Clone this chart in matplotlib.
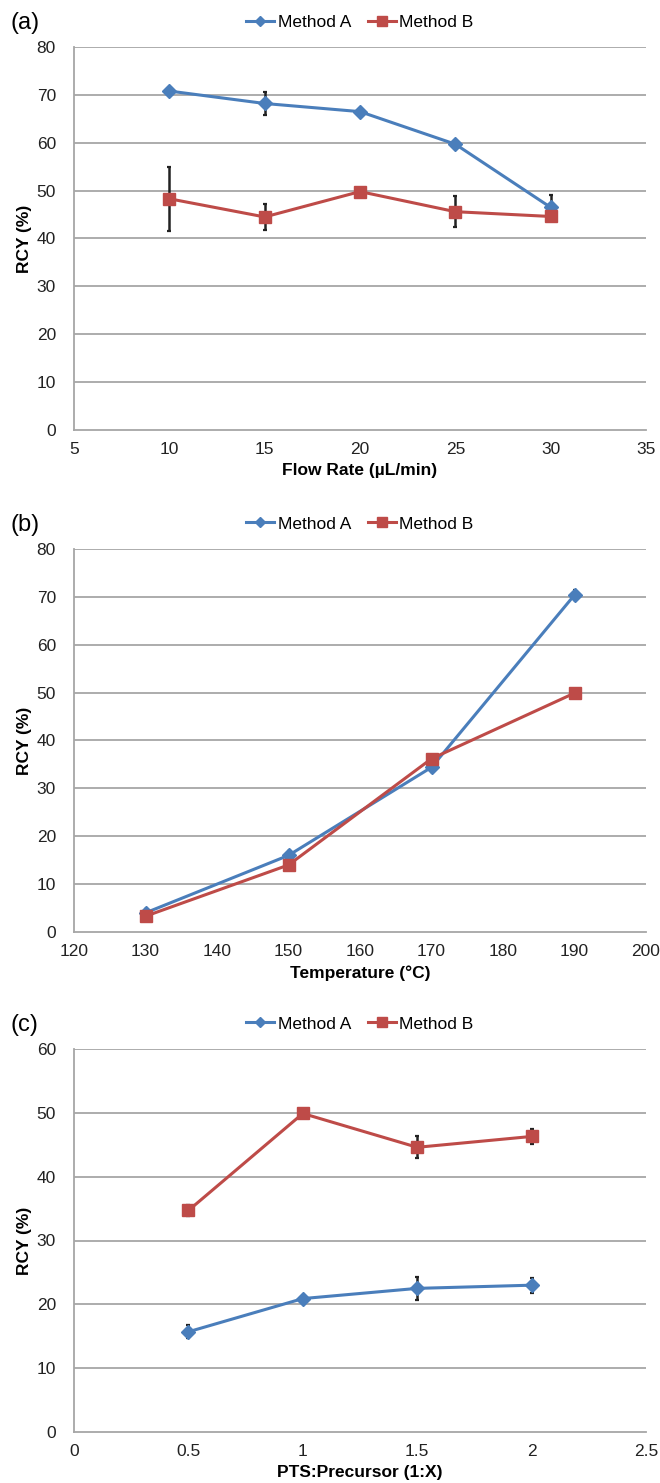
import matplotlib
matplotlib.use("Agg")
import matplotlib.pyplot as plt

plt.rcParams['font.family'] = ['Liberation Sans', 'DejaVu Sans']

# Panel (a): flow rate
flow = [10, 15, 20, 25, 30]
a_A = [70.8, 68.2, 66.5, 59.7, 46.5]
a_A_err = [0.5, 2.4, 0.4, 0.4, 2.6]
a_B = [48.3, 44.5, 49.8, 45.6, 44.6]
a_B_err = [6.7, 2.7, 0.4, 3.3, 0.4]

# Panel (b): temperature
temp = [130, 150, 170, 190]
b_A = [4.0, 16.0, 34.4, 70.4]
b_A_err = [0.8, 1.0, 1.0, 1.0]
b_B = [3.3, 14.0, 36.2, 49.9]
b_B_err = [0.3, 0.3, 0.3, 0.3]

# Panel (c): PTS:precursor
ratio = [0.5, 1.0, 1.5, 2.0]
c_A = [15.7, 20.9, 22.5, 23.0]
c_A_err = [1.0, 0.3, 1.75, 1.2]
c_B = [34.7, 49.9, 44.6, 46.3]
c_B_err = [0.9, 0.3, 1.7, 1.2]

panels = [
    dict(label='(a)', x=flow, A=a_A, Ae=a_A_err, B=a_B, Be=a_B_err,
         xlim=(5, 35), xticks=[5, 10, 15, 20, 25, 30, 35], xticklabels=['5', '10', '15', '20', '25', '30', '35'],
         ylim=(0, 80), yticks=[0, 10, 20, 30, 40, 50, 60, 70, 80],
         xlabel='Flow Rate (\u00b5L/min)', top=47, bottom=430),
    dict(label='(b)', x=temp, A=b_A, Ae=b_A_err, B=b_B, Be=b_B_err,
         xlim=(120, 200), xticks=[120, 130, 140, 150, 160, 170, 180, 190, 200],
         xticklabels=['120', '130', '140', '150', '160', '170', '180', '190', '200'],
         ylim=(0, 80), yticks=[0, 10, 20, 30, 40, 50, 60, 70, 80],
         xlabel='Temperature (\u00b0C)', top=549, bottom=932),
    dict(label='(c)', x=ratio, A=c_A, Ae=c_A_err, B=c_B, Be=c_B_err,
         xlim=(0, 2.5), xticks=[0, 0.5, 1, 1.5, 2, 2.5], xticklabels=['0', '0.5', '1', '1.5', '2', '2.5'],
         ylim=(0, 60), yticks=[0, 10, 20, 30, 40, 50, 60],
         xlabel='PTS:Precursor (1:X)', top=1049, bottom=1432),
]

W, H = 660, 1483
fig = plt.figure(figsize=(W / 100, H / 100), dpi=100)
blue = '#4A7EBB'
red = '#BE4B48'
grid = '#A6A6A6'

for p in panels:
    left, right = 74, 646
    ax = fig.add_axes([left / W, 1 - p['bottom'] / H, (right - left) / W, (p['bottom'] - p['top']) / H])
    ax.set_xlim(*p['xlim'])
    ax.set_ylim(*p['ylim'])
    ax.set_xticks(p['xticks'])
    ax.set_xticklabels(p['xticklabels'])
    ax.set_yticks(p['yticks'])
    for y in p['yticks'][1:]:
        ax.axhline(y, color=grid, lw=1.3, zorder=0)
    for s in ['top', 'right']:
        ax.spines[s].set_visible(False)
    for s in ['left', 'bottom']:
        ax.spines[s].set_color(grid)
        ax.spines[s].set_linewidth(1.3)
    ax.tick_params(length=0, labelsize=12.5, colors='#222222')
    ax.tick_params(axis='x', pad=9)
    ax.tick_params(axis='y', pad=13)

    ax.errorbar(p['x'], p['A'], yerr=p['Ae'], fmt='none', ecolor='#222222', elinewidth=1.8, capsize=1.6, capthick=1.6, zorder=2)
    ax.errorbar(p['x'], p['B'], yerr=p['Be'], fmt='none', ecolor='#222222', elinewidth=1.8, capsize=1.6, capthick=1.6, zorder=2)
    lA, = ax.plot(p['x'], p['A'], color=blue, lw=2.2, marker='D', ms=7, mec=blue, mfc=blue, label='Method A', zorder=3)
    lB, = ax.plot(p['x'], p['B'], color=red, lw=2.2, marker='s', ms=9, mec=red, mfc=red, label='Method B', zorder=4)

    hgt = p['bottom'] - p['top']
    ax.legend(handles=[lA, lB], loc='center', bbox_to_anchor=(0.5, 1 + 25 / hgt), ncol=2, frameon=False,
              fontsize=12.5, handlelength=1.6, handletextpad=0.2, columnspacing=1.0, markerscale=0.75)
    ax.set_xlabel(p['xlabel'], fontsize=12.5, fontweight='bold', labelpad=4)
    ax.set_ylabel('RCY (%)', fontsize=12.5, fontweight='bold', labelpad=3)
    fig.text(10 / W, 1 - (p['top'] - 24) / H, p['label'], fontsize=17, va='center', ha='left')

fig.savefig('out.png', dpi=100)
